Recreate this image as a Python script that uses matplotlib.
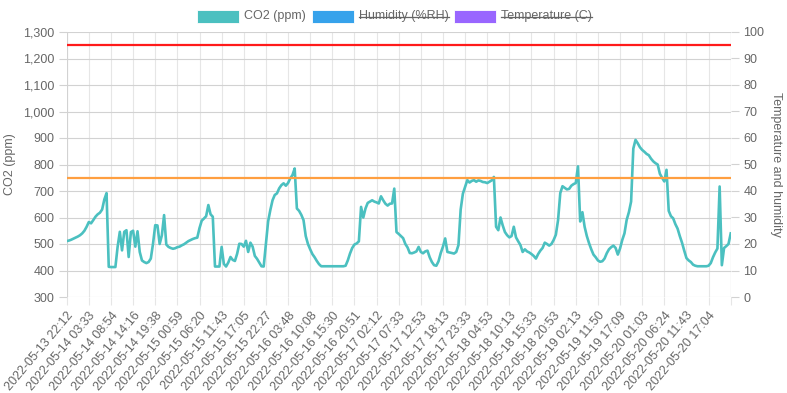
import matplotlib
matplotlib.use("Agg")
import matplotlib.pyplot as plt
from matplotlib.patches import Rectangle
from matplotlib.lines import Line2D
from matplotlib.ticker import FuncFormatter

TEAL, BLUE, PURPLE = "#4bc0c0", "#36a2eb", "#9966ff"
RED, ORANGE = "#ff1a1a", "#ff9f40"
TXT = "#666666"

TICK_LABELS = [
    "2022-05-13 22:12", "2022-05-14 03:33", "2022-05-14 08:54", "2022-05-14 14:16",
    "2022-05-14 19:38", "2022-05-15 00:59", "2022-05-15 06:20", "2022-05-15 11:43",
    "2022-05-15 17:05", "2022-05-15 22:27", "2022-05-16 03:48", "2022-05-16 10:08",
    "2022-05-16 15:30", "2022-05-16 20:51", "2022-05-17 02:12", "2022-05-17 07:33",
    "2022-05-17 12:53", "2022-05-17 18:13", "2022-05-17 23:33", "2022-05-18 04:53",
    "2022-05-18 10:13", "2022-05-18 15:33", "2022-05-18 20:53", "2022-05-19 02:13",
    "2022-05-19 11:50", "2022-05-19 17:09", "2022-05-20 01:03", "2022-05-20 06:24",
    "2022-05-20 11:43", "2022-05-20 17:04",
]
SAMPLES_PER_LABEL = 10

# CO2 readings (ppm), ten samples between consecutive labelled timestamps
CO2 = [
    511, 513, 516, 520, 524, 528, 533, 540, 550, 565,
    583, 578, 590, 603, 612, 618, 630, 668, 692, 414,
    413, 413, 413, 489, 546, 476, 546, 552, 451, 545,
    550, 490, 548, 470, 438, 432, 428, 432, 445, 501,
    571, 570, 500, 533, 609, 498, 489, 485, 482, 484,
    488, 490, 495, 499, 505, 511, 515, 519, 522, 524,
    560, 588, 596, 605, 647, 612, 603, 415, 415, 415,
    489, 425, 415, 430, 451, 440, 436, 463, 501, 500,
    490, 512, 470, 505, 490, 455, 444, 430, 416, 415,
    500, 585, 628, 665, 685, 691, 710, 722, 729, 720,
    730, 748, 760, 785, 634, 625, 610, 590, 530, 500,
    480, 462, 450, 436, 424, 416, 416, 416, 416, 416,
    416, 416, 416, 416, 416, 416, 418, 438, 464, 485,
    498, 502, 510, 640, 600, 634, 655, 660, 665, 660,
    657, 653, 680, 665, 652, 645, 652, 653, 709, 545,
    538, 530, 522, 500, 487, 466, 465, 468, 472, 489,
    470, 465, 472, 475, 450, 432, 420, 418, 435, 466,
    490, 521, 470, 468, 466, 464, 470, 496, 630, 690,
    716, 741, 732, 738, 741, 735, 740, 738, 734, 733,
    730, 735, 740, 753, 565, 552, 600, 570, 545, 533,
    525, 530, 565, 525, 510, 496, 470, 480, 472, 468,
    462, 455, 445, 462, 475, 485, 505, 500, 494, 500,
    515, 535, 590, 692, 718, 712, 706, 708, 720, 726,
    730, 793, 585, 620, 565, 530, 503, 480, 460, 450,
    438, 433, 435, 445, 465, 480, 488, 494, 485, 460,
    483, 515, 540, 591, 620, 660, 860, 893, 880, 865,
    855, 848, 840, 835, 822, 812, 805, 800, 765, 750,
    736, 780, 625, 605, 597, 575, 558, 530, 505, 475,
    447, 438, 432, 422, 418, 416, 416, 416, 416, 416,
    418, 428, 450, 468, 483, 717, 420, 485, 492, 500,
    540,
]
CO2_WARN, CO2_ALARM = 750, 1250

plt.rcParams["font.family"] = ["Liberation Sans", "DejaVu Sans"]
plt.rcParams["font.size"] = 9.0

fig = plt.figure(figsize=(7.87, 3.93), dpi=100)
ax = fig.add_axes([66.7 / 787, 1 - 297 / 393, 664 / 787, 265 / 393])
ax2 = ax.twinx()

x = list(range(len(CO2)))
ax.plot(x, CO2, color=TEAL, lw=1.9, zorder=3, solid_joinstyle="round")
ax.axhline(CO2_ALARM, color=RED, lw=1.6, zorder=4)
ax.axhline(CO2_WARN, color=ORANGE, lw=1.6, zorder=4)

ax.set_xlim(0, len(TICK_LABELS) * SAMPLES_PER_LABEL)
ax.set_ylim(300, 1300)
ax.set_yticks(range(300, 1301, 100))
ax.yaxis.set_major_formatter(FuncFormatter(lambda v, p: f"{int(v):,}"))
ax.set_xticks([i * SAMPLES_PER_LABEL for i in range(len(TICK_LABELS) + 1)])
ax.set_xticklabels(TICK_LABELS + [""], rotation=50, ha="right", va="top",
                   rotation_mode="anchor")
ax2.set_ylim(0, 100)
ax2.set_yticks(range(0, 101, 10))

ax.grid(axis="y", color="#d2d2d2", lw=0.8)
ax.grid(axis="x", color="#e6e6e6", lw=0.8)
ax.set_axisbelow(True)
for a in (ax, ax2):
    for s in a.spines.values():
        s.set_visible(False)
    a.tick_params(colors=TXT, labelcolor=TXT, length=6, width=0.8, pad=3)
ax.tick_params(axis="x", colors="#e6e6e6", labelcolor=TXT)
ax.tick_params(axis="y", colors="#d2d2d2", labelcolor=TXT)
ax2.tick_params(axis="y", colors="#d2d2d2", labelcolor=TXT)
ax.axvline(0, color="#d2d2d2", lw=0.8)
ax.axvline(ax.get_xlim()[1], color="#d2d2d2", lw=0.8)

ax.set_ylabel("CO2 (ppm)", color=TXT, labelpad=5)
ax2.set_ylabel("Temperature and humidity", color=TXT, rotation=-90, labelpad=13)

# legend (hidden datasets are struck through)
legend = [("CO2 (ppm)", TEAL, False), ("Humidity (%RH)", BLUE, True),
          ("Temperature (C)", PURPLE, True)]
box_x = [197, 312, 454]
renderer = fig.canvas.get_renderer()
for (label, col, hidden), bx in zip(legend, box_x):
    fig.add_artist(Rectangle((bx / 787, 1 - 23 / 393), 42 / 787, 13 / 393,
                             transform=fig.transFigure, fc=col, ec="white", lw=0.6))
    t = fig.text((bx + 47) / 787, 1 - 16.5 / 393, label, color=TXT, va="center", ha="left")
    if hidden:
        bb = t.get_window_extent(renderer).transformed(fig.transFigure.inverted())
        ymid = 1 - 16.5 / 393
        fig.add_artist(Line2D([bb.x0, bb.x1], [ymid, ymid], transform=fig.transFigure,
                              color=TXT, lw=0.9))

fig.savefig("out.png", dpi=100)
